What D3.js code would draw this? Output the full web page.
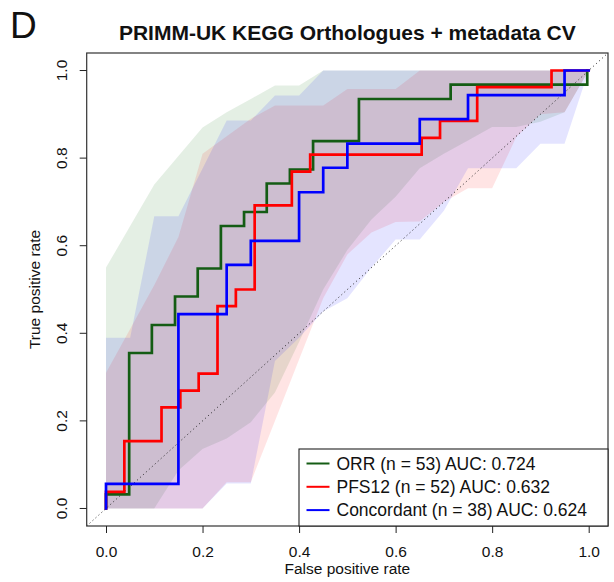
<!DOCTYPE html>
<html><head><meta charset="utf-8">
<script src="https://cdn.jsdelivr.net/npm/d3@7"></script>
<style>body{margin:0;background:#fff;} svg{display:block;font-family:"Liberation Sans",Arial,Helvetica,sans-serif;}</style>
</head><body><svg id="c" width="614" height="582"></svg>
<script>
// ---------- data ----------
const panelLabel = "D";
const titleText = "PRIMM-UK KEGG Orthologues + metadata CV";
const xLabel = "False positive rate";
const yLabel = "True positive rate";
const tickValues = [0, 0.2, 0.4, 0.6, 0.8, 1.0];
const seriesNames = ["ORR (n = 53) AUC: 0.724", "PFS12 (n = 52) AUC: 0.632", "Concordant (n = 38) AUC: 0.624"];
const seriesColors = ["#145c14", "#ff0000", "#0000ff"];

// ROC curves (step-after vertices: fpr, tpr)
const orrFpr = [0, 0, 0.048, 0.095, 0.143, 0.190, 0.238, 0.286, 0.333, 0.381, 0.429, 0.524, 0.714, 0.997];
const orrTpr = [0, 0.032, 0.355, 0.419, 0.484, 0.548, 0.645, 0.677, 0.742, 0.774, 0.839, 0.935, 0.968, 1.0];
const pfsFpr = [0, 0, 0.038, 0.115, 0.154, 0.192, 0.231, 0.269, 0.308, 0.385, 0.423, 0.654, 0.692, 0.769, 0.923, 1.0];
const pfsTpr = [0, 0.038, 0.154, 0.231, 0.269, 0.308, 0.462, 0.500, 0.692, 0.769, 0.808, 0.846, 0.885, 0.962, 1.0, 1.0];
const conFpr = [0, 0, 0.15, 0.25, 0.30, 0.40, 0.45, 0.50, 0.65, 0.75, 0.95, 1.0];
const conTpr = [0, 0.056, 0.444, 0.556, 0.611, 0.722, 0.778, 0.833, 0.889, 0.944, 1.0, 1.0];

// spread bands
const bandFpr  = [0, 0.05, 0.1, 0.15, 0.2, 0.25, 0.3, 0.35, 0.4, 0.45, 0.5, 0.55, 0.6, 0.65, 0.7, 0.75, 0.8, 0.85, 0.9, 0.95, 1.0];
const orrUpper = [0.55, 0.645, 0.74, 0.805, 0.87, 0.905, 0.935, 0.966, 0.966, 1, 1, 1, 1, 1, 1, 1, 1, 1, 1, 1, 1];
const orrLower = [0, 0, 0, 0.087, 0.136, 0.16, 0.197, 0.265, 0.38, 0.50, 0.59, 0.66, 0.712, 0.777, 0.81, 0.84, 0.871, 0.871, 0.883, 0.905, 1];
const pfsUpper = [0.31, 0.41, 0.51, 0.62, 0.81, 0.85, 0.89, 0.92, 0.92, 0.92, 0.958, 0.958, 0.958, 1, 1, 1, 1, 1, 1, 1, 1];
const pfsLower = [0, 0, 0, 0, 0, 0.06, 0.06, 0.20, 0.34, 0.48, 0.58, 0.63, 0.654, 0.655, 0.70, 0.731, 0.731, 0.848, 0.90, 0.905, 1];
const conUpper = [0.39, 0.39, 0.667, 0.667, 0.776, 0.886, 0.886, 0.943, 0.943, 1, 1, 1, 1, 1, 1, 1, 1, 1, 1, 1, 1];
const conLower = [0, 0, 0, 0, 0, 0.057, 0.057, 0.337, 0.39, 0.45, 0.48, 0.55, 0.614, 0.614, 0.68, 0.777, 0.777, 0.777, 0.833, 0.833, 1];

// ---------- chart ----------
const svg = d3.select("#c");
const box = {l: 86.7, r: 608, t: 53, b: 526};
const x = d3.scaleLinear().domain([-0.04, 1.04]).range([box.l, box.r]);
const y = d3.scaleLinear().domain([-0.04, 1.04]).range([box.b, box.t]);
const fontAxis = 15.5;

const series = [
  {fpr: orrFpr, tpr: orrTpr, up: orrUpper, lo: orrLower, color: seriesColors[0], name: seriesNames[0]},
  {fpr: pfsFpr, tpr: pfsTpr, up: pfsUpper, lo: pfsLower, color: seriesColors[1], name: seriesNames[1]},
  {fpr: conFpr, tpr: conTpr, up: conUpper, lo: conLower, color: seriesColors[2], name: seriesNames[2]}
];
const bandFill = ["#006400", "#ff0000", "#0000ff"];

svg.append("defs").append("clipPath").attr("id", "clip")
  .append("rect").attr("x", box.l).attr("y", box.t).attr("width", box.r - box.l).attr("height", box.b - box.t);
const plot = svg.append("g").attr("clip-path", "url(#clip)");

// bands
const area = d3.area().x(d => x(d.f)).y0(d => y(d.lo)).y1(d => y(d.up)).curve(d3.curveLinear);
series.forEach((s, i) => {
  const pts = bandFpr.map((f, k) => ({f, up: s.up[k], lo: s.lo[k]}));
  plot.append("path").datum(pts).attr("d", area)
    .attr("fill", bandFill[i]).attr("fill-opacity", 0.105).attr("stroke", "none");
});

// diagonal
plot.append("line")
  .attr("x1", x(-0.04)).attr("y1", y(-0.04)).attr("x2", x(1.04)).attr("y2", y(1.04))
  .attr("stroke", "#222").attr("stroke-width", 1).attr("stroke-dasharray", "1,3");

// curves
const line = d3.line().x(d => x(d[0])).y(d => y(d[1])).curve(d3.curveStepAfter);
series.forEach(s => {
  const pts = s.fpr.map((f, k) => [f, s.tpr[k]]);
  plot.append("path").datum(pts).attr("d", line)
    .attr("fill", "none").attr("stroke", s.color).attr("stroke-width", 2.7)
    .attr("stroke-linejoin", "miter").attr("stroke-linecap", "square");
});

// box
svg.append("rect").attr("x", box.l).attr("y", box.t).attr("width", box.r - box.l).attr("height", box.b - box.t)
  .attr("fill", "none").attr("stroke", "#333").attr("stroke-width", 1.2);

// axes
const xAxis = d3.axisBottom(x).tickValues(tickValues).tickSize(7).tickPadding(13).tickFormat(d3.format(".1f"));
const gx = svg.append("g").attr("transform", `translate(0,${box.b})`).call(xAxis);
gx.select(".domain").remove();
gx.selectAll("line").attr("stroke", "#222");
gx.selectAll("text").attr("font-size", fontAxis).attr("fill", "#111").attr("font-family", "Liberation Sans, Arial, sans-serif");

const yAxis = d3.axisLeft(y).tickValues(tickValues).tickSize(7).tickFormat(d3.format(".1f"));
const gy = svg.append("g").attr("transform", `translate(${box.l},0)`).call(yAxis);
gy.select(".domain").remove();
gy.selectAll("line").attr("stroke", "#222");
gy.selectAll("text")
  .attr("font-size", fontAxis).attr("fill", "#111").attr("font-family", "Liberation Sans, Arial, sans-serif")
  .attr("x", null).attr("dy", null)
  .attr("text-anchor", "middle")
  .attr("transform", d => `translate(-20,${y(d)}) rotate(-90)`)
  .attr("y", 0);
gy.selectAll(".tick").attr("transform", null);
gy.selectAll(".tick line").attr("transform", d => `translate(0,${y(d)})`);

// axis titles
svg.append("text").attr("x", (box.l + box.r) / 2).attr("y", 574).attr("text-anchor", "middle")
  .attr("font-size", fontAxis).attr("fill", "#111").text(xLabel);
svg.append("text").attr("transform", `translate(40,${(box.t + box.b) / 2}) rotate(-90)`).attr("text-anchor", "middle")
  .attr("font-size", fontAxis).attr("fill", "#111").text(yLabel);

// title
svg.append("text").attr("x", (box.l + box.r) / 2).attr("y", 40).attr("text-anchor", "middle")
  .attr("font-size", 21).attr("font-weight", "bold").attr("fill", "#111").text(titleText);
svg.append("text").attr("x", 10).attr("y", 38).attr("font-size", 37).attr("fill", "#111").text(panelLabel);

// legend
const lg = svg.append("g");
lg.append("rect").attr("x", 299).attr("y", 449).attr("width", box.r - 299).attr("height", box.b - 449)
  .attr("fill", "#fff").attr("stroke", "#222").attr("stroke-width", 1.1);
series.forEach((s, i) => {
  const cy = 463.5 + i * 23.3;
  lg.append("line").attr("x1", 306.5).attr("x2", 329.5).attr("y1", cy).attr("y2", cy)
    .attr("stroke", s.color).attr("stroke-width", 2);
  lg.append("text").attr("x", 336.5).attr("y", cy).attr("dy", "0.35em")
    .attr("font-size", 17.5).attr("fill", "#111").text(s.name);
});
</script></body></html>
